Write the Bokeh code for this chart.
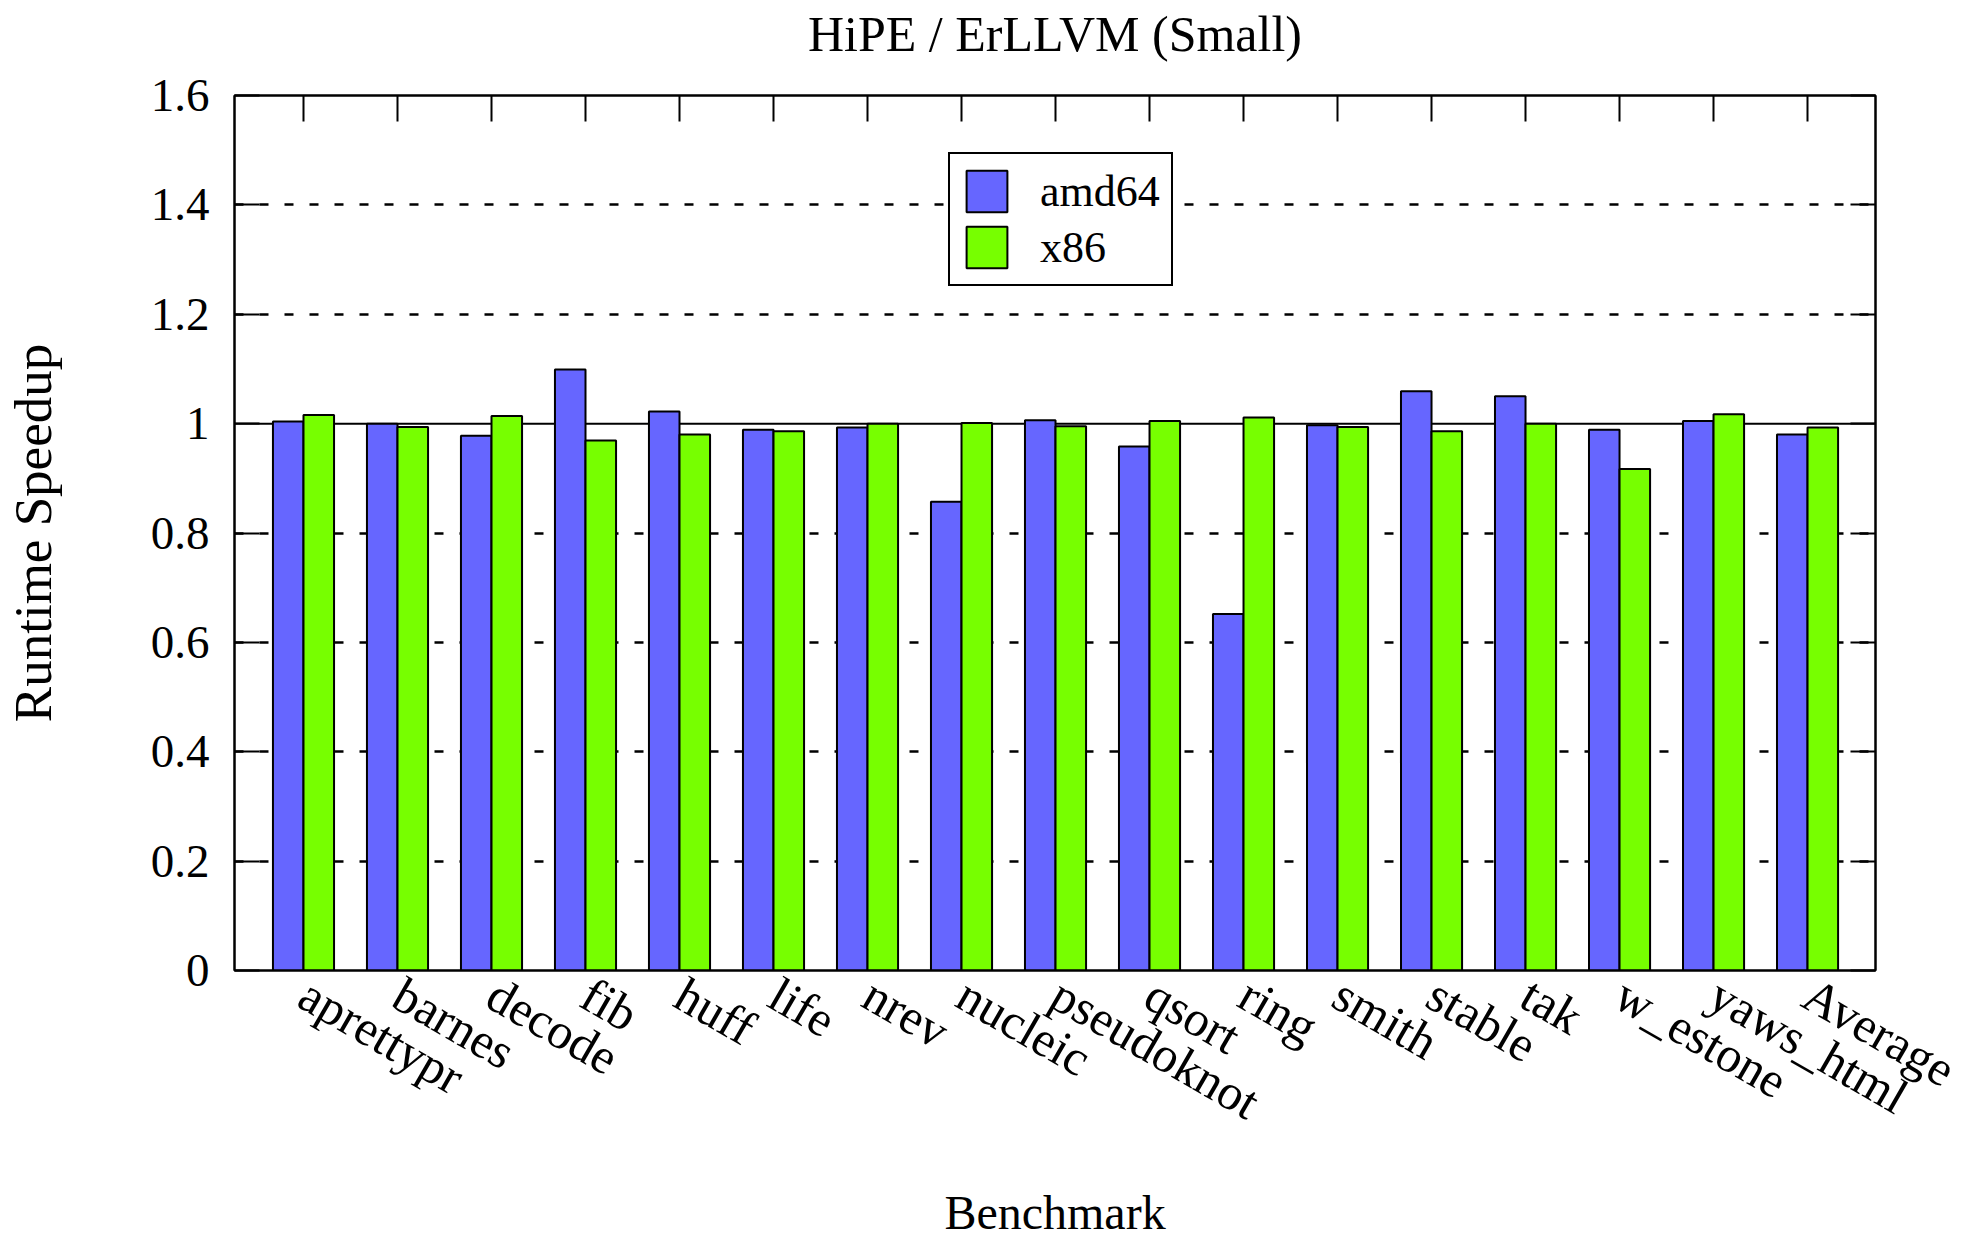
import math
from bokeh.plotting import figure
from bokeh.models import (Range1d, FixedTicker, LinearAxis, Span, Legend, LegendItem,
                          ColumnDataSource)
from bokeh.transform import dodge
from bokeh.embed import file_html
from bokeh.resources import INLINE

title_text = "HiPE / ErLLVM (Small)"
benchmarks = ["aprettypr", "barnes", "decode", "fib", "huff", "life", "nrev", "nucleic",
              "pseudoknot", "qsort", "ring", "smith", "stable", "tak", "w_estone",
              "yaws_html", "Average"]
amd64 = [1.004, 1.000, 0.978, 1.099, 1.022, 0.989, 0.993, 0.857, 1.006, 0.958, 0.652,
         0.997, 1.059, 1.050, 0.989, 1.005, 0.980]
x86 = [1.016, 0.994, 1.014, 0.969, 0.980, 0.986, 1.000, 1.001, 0.995, 1.005, 1.011,
       0.994, 0.986, 1.000, 0.917, 1.017, 0.993]
y_ticks = [0, 0.2, 0.4, 0.6, 0.8, 1.0, 1.2, 1.4, 1.6]
y_tick_labels = ["0", "0.2", "0.4", "0.6", "0.8", "1", "1.2", "1.4", "1.6"]
series_names = ["amd64", "x86"]
colors = ["#6666ff", "#77ff00"]

FONT = "Liberation Serif"

pos = list(range(len(benchmarks)))
src = ColumnDataSource(dict(x=pos, name=benchmarks, amd64=amd64, x86=x86))

xr = Range1d(-0.734, len(benchmarks) - 1 + 0.723)
p = figure(frame_width=1641, frame_height=875,
           min_border_left=233, min_border_right=102, min_border_top=95, min_border_bottom=271,
           x_range=xr, y_range=Range1d(0, 1.6),
           output_backend="svg", toolbar_location=None)
p.background_fill_color = "white"
p.border_fill_color = "white"
p.outline_line_color = "black"
p.outline_line_width = 2

# grid
p.xgrid.visible = False
p.ygrid.ticker = FixedTicker(ticks=[0.2, 0.4, 0.6, 0.8, 1.2, 1.4])
p.ygrid.grid_line_color = "black"
p.ygrid.grid_line_width = 2.5
p.ygrid.grid_line_dash = "9 16"

ref = Span(location=1.0, dimension="width", line_color="black", line_width=2, level="underlay")
p.add_layout(ref)

bw = 0.325
r1 = p.vbar(x=dodge("x", -bw / 2, range=p.x_range), top="amd64", width=bw, source=src,
            fill_color=colors[0], line_color="black", line_width=2)
r2 = p.vbar(x=dodge("x", bw / 2, range=p.x_range), top="x86", width=bw, source=src,
            fill_color=colors[1], line_color="black", line_width=2)

# axes
xa = p.xaxis[0]
xa.ticker = FixedTicker(ticks=pos)
xa.major_label_overrides = {i: n for i, n in enumerate(benchmarks)}
xa.major_label_orientation = -math.pi / 6
xa.major_label_text_font = FONT
xa.major_label_text_font_size = "50px"
xa.major_label_text_color = "black"
xa.major_label_standoff = 20
xa.major_tick_in = 0
xa.major_tick_out = 0
xa.minor_tick_line_color = None
xa.axis_line_width = 2
xa.axis_label = "Benchmark"
xa.axis_label_text_font = FONT
xa.axis_label_text_font_size = "48px"
xa.axis_label_text_font_style = "normal"
xa.axis_label_text_color = "black"
xa.axis_label_standoff = 29

ya = p.yaxis[0]
ya.ticker = FixedTicker(ticks=y_ticks)
ya.major_label_overrides = {t: l for t, l in zip(y_ticks, y_tick_labels)}
ya.major_label_text_font = FONT
ya.major_label_text_font_size = "47px"
ya.major_label_text_color = "black"
ya.major_label_standoff = 25
ya.major_tick_in = 25
ya.major_tick_out = 0
ya.major_tick_line_width = 2
ya.minor_tick_line_color = None
ya.axis_line_width = 2
ya.axis_label = "Runtime Speedup"
ya.axis_label_text_font = FONT
ya.axis_label_text_font_size = "53px"
ya.axis_label_text_font_style = "normal"
ya.axis_label_text_color = "black"
ya.axis_label_standoff = 86

# top axis: inward ticks, carries the chart title as its label
top = LinearAxis(ticker=FixedTicker(ticks=pos), major_tick_in=26, major_tick_out=0,
                 major_tick_line_width=2, minor_tick_line_color=None,
                 major_label_overrides={i: "" for i in pos},
                 major_label_standoff=0, axis_line_width=2,
                 axis_label=title_text, axis_label_text_font=FONT,
                 axis_label_text_font_size="50px", axis_label_text_font_style="normal",
                 axis_label_text_color="black", axis_label_standoff=34)
p.add_layout(top, "above")
right = LinearAxis(ticker=FixedTicker(ticks=y_ticks), major_tick_in=25, major_tick_out=0,
                   major_tick_line_width=2, minor_tick_line_color=None,
                   major_label_overrides={t: "" for t in y_ticks},
                   major_label_standoff=0, axis_line_width=2)
p.add_layout(right, "right")

legend = Legend(items=[LegendItem(label=series_names[0], renderers=[r1]),
                       LegendItem(label=series_names[1], renderers=[r2])],
                location=(714, 684))
legend.label_text_font = FONT
legend.label_text_font_size = "44px"
legend.label_text_color = "black"
legend.glyph_width = 51
legend.glyph_height = 52
legend.label_height = 52
legend.spacing = 4
legend.padding = 11
legend.margin = 0
legend.label_standoff = 28
legend.border_line_color = "black"
legend.border_line_width = 2
legend.border_line_alpha = 1
legend.background_fill_alpha = 1
p.add_layout(legend, "center")

open("out.html", "w").write(file_html(p, INLINE))
